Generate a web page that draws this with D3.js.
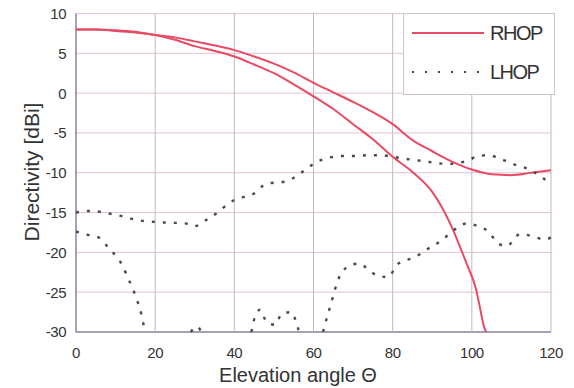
<!DOCTYPE html>
<html>
<head>
<meta charset="utf-8">
<script src="https://cdn.jsdelivr.net/npm/d3@7"></script>
<style>
  body { margin: 0; background: #fff; }
  svg text { font-family: "Liberation Sans", Arial, sans-serif; fill: #333; }
</style>
</head>
<body>
<div id="chart"></div>
<script>
const width = 574, height = 388;

// [angle, dB] pairs
const rhopUpper = [[0,8.0],[5,8.0],[10,7.9],[15,7.7],[20,7.3],[25,7.0],[30,6.5],[35,6.0],[40,5.4],[45,4.6],[50,3.7],[55,2.6],[60,1.3],[65,0.1],[70,-1.1],[75,-2.4],[80,-3.9],[85,-5.9],[90,-7.3],[95,-8.6],[100,-9.6],[105,-10.2],[110,-10.3],[115,-10.0],[120,-9.7]];
const rhopLower = [[0,8.0],[5,8.0],[10,7.8],[15,7.6],[20,7.3],[25,6.7],[30,5.9],[35,5.3],[40,4.6],[45,3.6],[50,2.5],[55,1.1],[60,-0.4],[65,-2.0],[70,-3.9],[75,-5.8],[80,-8.0],[85,-9.9],[90,-12.4],[95,-16.9],[97,-19.3],[99,-21.8],[101,-24.5],[102,-26.8],[103,-29.2],[103.6,-30]];
const lhopUpper = [[0,-15.0],[3,-14.8],[6,-14.9],[9,-15.2],[12,-15.5],[15,-15.9],[18,-16.1],[21,-16.2],[24,-16.3],[27,-16.3],[30,-16.7],[33,-15.9],[36,-14.9],[39,-13.7],[42,-13.1],[45,-12.6],[48,-11.4],[51,-11.2],[53,-11.1],[56,-10.3],[58,-9.6],[61,-8.6],[64,-8.1],[67,-7.9],[70,-7.9],[74,-7.8],[77,-7.8],[80,-8.0],[84,-8.3],[87,-8.5],[90,-8.7],[94,-8.9],[97,-8.7],[99,-8.5],[101,-8.0],[104,-7.8],[108,-8.4],[111,-9.0],[115,-9.7],[118,-10.7],[120,-11.3]];
// null = below the -30 dB floor (not drawn)
const lhopLower = [[0,-17.4],[3,-17.8],[6,-18.2],[8,-19.3],[10,-20.4],[12,-21.9],[13,-23.1],[14.3,-24.5],[15.5,-26.1],[16.6,-27.9],[17.4,-29.8],[17.6,-30],[20,null],
  [29,-30],[30.5,-29.3],[31.7,-30],[35,null],
  [44.3,-30],[45.2,-28.1],[46.5,-27.2],[48.2,-28.8],[50.3,-29.1],[52,-27.7],[54.5,-27.5],[55.8,-29.1],[56.4,-30],[60,null],
  [62.4,-30],[63.5,-28.0],[64.4,-26.5],[65.4,-24.7],[66.5,-23.1],[68.4,-21.9],[71.5,-21.4],[74,-22.2],[76,-22.9],[78.9,-23.1],[81,-21.6],[84.4,-20.8],[87,-20.2],[89.4,-19.4],[92.4,-18.5],[95.2,-17.3],[98.3,-16.4],[101.6,-16.7],[104.2,-17.4],[106.7,-18.9],[108.8,-19.2],[112.2,-17.7],[115.5,-18.0],[118.5,-18.4],[120,-18.1]];

const xTicks = [0, 20, 40, 60, 80, 100, 120];
const yTicks = [10, 5, 0, -5, -10, -15, -20, -25, -30];
const legendItems = ["RHOP", "LHOP"];

const red = "#e94a64", dark = "#4a4a4a";

const svg = d3.select("#chart").append("svg")
    .attr("width", width)
    .attr("height", height);

const x = d3.scaleLinear().domain([0, 120]).range([76, 551]);
const y = d3.scaleLinear().domain([-30, 10]).range([332, 13.5]);

// grid
svg.append("g").selectAll("line")
    .data(yTicks)
    .join("line")
    .attr("x1", x(0)).attr("x2", x(120))
    .attr("y1", d => y(d)).attr("y2", d => y(d))
    .attr("stroke", d => d === -30 ? "#8a7f9c" : "#e2c3cf")
    .attr("stroke-width", d => d === -30 ? 1.5 : 1);

svg.append("g").selectAll("line")
    .data(xTicks)
    .join("line")
    .attr("x1", d => x(d)).attr("x2", d => x(d))
    .attr("y1", y(-30)).attr("y2", y(10))
    .attr("stroke", d => d === 0 ? "#8a7f9c" : "#c4b6c8")
    .attr("stroke-width", d => d === 0 ? 1.5 : 1);

// tick labels
svg.append("g").selectAll("text")
    .data(yTicks)
    .join("text")
    .attr("x", 66)
    .attr("y", d => y(d))
    .attr("dy", "0.36em")
    .attr("text-anchor", "end")
    .attr("font-size", 15)
    .attr("letter-spacing", "-0.5px")
    .text(d => d);

svg.append("g").selectAll("text")
    .data(xTicks)
    .join("text")
    .attr("x", d => x(d))
    .attr("y", 358)
    .attr("text-anchor", "middle")
    .attr("font-size", 15)
    .attr("letter-spacing", "-0.5px")
    .text(d => d);

// axis titles
svg.append("text")
    .attr("x", 298).attr("y", 382)
    .attr("text-anchor", "middle")
    .attr("font-size", 20)
    .text("Elevation angle Θ");

svg.append("text")
    .attr("transform", "translate(39,172) rotate(-90)")
    .attr("text-anchor", "middle")
    .attr("font-size", 21)
    .text("Directivity [dBi]");

// curves
const line = d3.line()
    .defined(d => d[1] !== null)
    .x(d => x(d[0]))
    .y(d => y(d[1]))
    .curve(d3.curveMonotoneX);

[rhopUpper, rhopLower].forEach(s => {
    svg.append("path")
        .datum(s)
        .attr("d", line)
        .attr("fill", "none")
        .attr("stroke", red)
        .attr("stroke-width", 2);
});

[lhopUpper, lhopLower].forEach(s => {
    svg.append("path")
        .datum(s)
        .attr("d", line)
        .attr("fill", "none")
        .attr("stroke", dark)
        .attr("stroke-width", 2.4)
        .attr("stroke-dasharray", "3,8");
});

// legend
const lg = svg.append("g");
lg.append("rect")
    .attr("x", 403.5).attr("y", 13.5)
    .attr("width", 151).attr("height", 81)
    .attr("fill", "#fff")
    .attr("stroke", "#cbc2cc");

lg.selectAll("line")
    .data(legendItems)
    .join("line")
    .attr("x1", 412).attr("x2", 484)
    .attr("y1", (d, i) => 33 + i * 39).attr("y2", (d, i) => 33 + i * 39)
    .attr("stroke", (d, i) => i === 0 ? red : dark)
    .attr("stroke-width", 2)
    .attr("stroke-dasharray", (d, i) => i === 0 ? null : "2,11");

lg.selectAll("text")
    .data(legendItems)
    .join("text")
    .attr("x", 490)
    .attr("y", (d, i) => 33 + i * 39)
    .attr("dy", "0.36em")
    .attr("font-size", 20)
    .attr("letter-spacing", "-1.5px")
    .text(d => d);
</script>
</body>
</html>
